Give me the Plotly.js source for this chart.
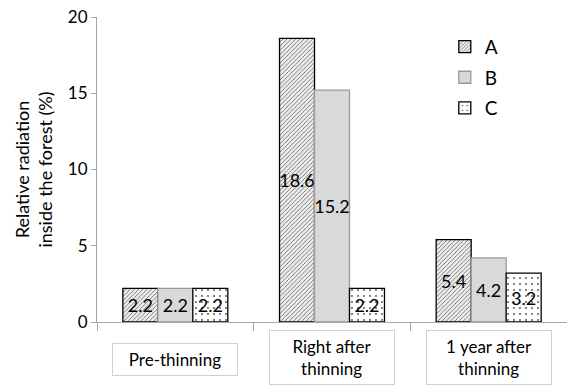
<!DOCTYPE html>
<html>
<head>
<meta charset="utf-8">
<script src="https://cdn.plot.ly/plotly-3.0.1.min.js"></script>
<style>
  html, body { margin: 0; padding: 0; background: #fff; }
  #chart { width: 567px; height: 389px; }
</style>
</head>
<body>
<div id="chart"></div>
<script>
// Relative radiation inside the forest, by thinning stage and plot
const categories = ["Pre-thinning", "Right after thinning", "1 year after thinning"];
const categoryLabels = ["Pre-thinning", "Right after<br>thinning", "1 year after<br>thinning"];
const seriesNames = ["A", "B", "C"];
const valuesA = [2.2, 18.6, 5.4];
const valuesB = [2.2, 15.2, 4.2];
const valuesC = [2.2, 2.2, 3.2];
const yTicks = [0, 5, 10, 15, 20];

const FONT = "Lato, 'Open Sans', sans-serif";

function barTrace(name, values, marker) {
  return {
    type: "bar",
    name: name,
    legendgroup: name,
    x: categories,
    y: values,
    text: values.map(v => v.toFixed(1)),
    textposition: "inside",
    insidetextanchor: "middle",
    constraintext: "none",
    textangle: 0,
    textfont: { family: FONT, size: 18, color: "#000" },
    marker: marker,
    hoverinfo: "x+y+name"
  };
}

const traces = [
  barTrace(seriesNames[0], valuesA, {
    color: "#d8d8d8",
    line: { color: "#000", width: 1.3 },
    pattern: { shape: "/", size: 3, fgcolor: "#555", bgcolor: "#eeeeee", solidity: 0.25 }
  }),
  barTrace(seriesNames[1], valuesB, {
    color: "#d9d9d9",
    line: { color: "#9a9a9a", width: 1.3 }
  }),
  barTrace(seriesNames[2], valuesC, {
    color: "#ffffff",
    line: { color: "#000", width: 1.3 },
    pattern: { shape: ".", size: 6, fgcolor: "#555", bgcolor: "#ffffff", solidity: 0.08 }
  })
];

// Boxed category labels below the axis
const annotations = categories.map((c, i) => ({
  x: c,
  xref: "x",
  y: i === 0 ? -0.07 : -0.025,
  yref: "paper",
  yanchor: "top",
  text: categoryLabels[i],
  showarrow: false,
  font: { family: FONT, size: 17, color: "#000" },
  bordercolor: "#d0d0d0",
  borderwidth: 1,
  borderpad: 5,
  bgcolor: "#fff",
  width: 114
}));

const layout = {
  width: 567,
  height: 389,
  margin: { l: 97, r: 0, t: 17, b: 67 },
  paper_bgcolor: "#fff",
  plot_bgcolor: "#fff",
  font: { family: FONT, size: 16, color: "#000" },
  barmode: "group",
  bargap: 0.33,
  bargroupgap: 0,
  showlegend: true,
  legend: {
    x: 0.74, y: 0.965, xanchor: "left", yanchor: "top",
    font: { family: FONT, size: 19, color: "#000" },
    traceorder: "grouped",
    tracegroupgap: 3,
    bgcolor: "rgba(0,0,0,0)"
  },
  xaxis: {
    type: "category",
    showticklabels: false,
    ticks: "outside",
    tickson: "boundaries",
    ticklen: 8,
    tickcolor: "#a6a6a6",
    showline: true,
    linecolor: "#a6a6a6",
    linewidth: 1,
    showgrid: false,
    zeroline: false,
    fixedrange: true
  },
  yaxis: {
    range: [0, 20],
    tickvals: yTicks,
    ticktext: yTicks.map(String),
    ticks: "outside",
    ticklen: 5,
    tickcolor: "#a6a6a6",
    showline: true,
    linecolor: "#a6a6a6",
    linewidth: 1,
    showgrid: false,
    zeroline: false,
    tickfont: { family: FONT, size: 17, color: "#000" },
    title: {
      text: "Relative radiation<br>inside the forest (%)",
      font: { family: FONT, size: 18, color: "#000" },
      standoff: 10
    },
    fixedrange: true
  },
  annotations: annotations
};

Plotly.newPlot("chart", traces, layout, { displayModeBar: false, staticPlot: true });
</script>
</body>
</html>
